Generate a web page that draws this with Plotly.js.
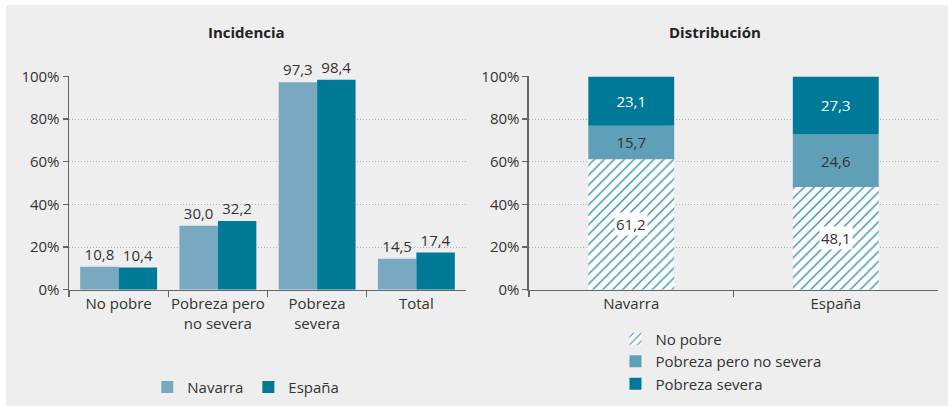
<!DOCTYPE html>
<html><head><meta charset="utf-8">
<script src="https://cdn.plot.ly/plotly-3.0.1.min.js"></script>
<style>
html,body{margin:0;padding:0;background:#fff;width:948px;height:406px;overflow:hidden}
#chart{position:absolute;left:6px;top:5px;width:942px;height:401px}
</style></head>
<body><div id="chart"></div>
<script>
// ---- data ----
const incCategories = ['No pobre', 'Pobreza pero<br>no severa', 'Pobreza<br>severa', 'Total'];
const incNavarra = [10.8, 30.0, 97.3, 14.5];
const incEspana = [10.4, 32.2, 98.4, 17.4];

const distCategories = ['Navarra', 'España'];
const distNoPobre = [61.2, 48.1];
const distPobrezaNoSevera = [15.7, 24.6];
const distPobrezaSevera = [23.1, 27.3];

const yTickVals = [0, 20, 40, 60, 80, 100];
const yTickText = ['0%', '20%', '40%', '60%', '80%', '100%'];

const seriesNames = ['Navarra', 'España'];
const distNames = ['No pobre', 'Pobreza pero no severa', 'Pobreza severa'];
const panelTitles = ['Incidencia', 'Distribución'];

// ---- helpers ----
const FONT = 'Open Sans, sans-serif';
const TXT = '#333333';
const fmt = v => v.toFixed(1).replace('.', ',');

const baseBottom = distNoPobre.map(() => 0);
const baseTop = distNoPobre.map((v, i) => v + distPobrezaNoSevera[i]);

const traces = [
  {
    type: 'bar', name: seriesNames[0], x: incCategories, y: incNavarra,
    text: incNavarra.map(fmt), textposition: 'outside', cliponaxis: false,
    textfont: {size: 15, color: TXT, family: FONT},
    marker: {color: '#79a9c1'}, xaxis: 'x', yaxis: 'y', legend: 'legend',
    hoverinfo: 'none'
  },
  {
    type: 'bar', name: seriesNames[1], x: incCategories, y: incEspana,
    text: incEspana.map(fmt), textposition: 'outside', cliponaxis: false,
    textfont: {size: 15, color: TXT, family: FONT},
    marker: {color: '#007a97'}, xaxis: 'x', yaxis: 'y', legend: 'legend',
    hoverinfo: 'none'
  },
  {
    type: 'bar', name: distNames[0], x: distCategories, y: distNoPobre,
    base: baseBottom, offsetgroup: 'd', width: 0.42, offset: -0.21,
    marker: {color: '#ffffff', pattern: {shape: '/', fgcolor: '#2a8aab', bgcolor: '#ffffff', size: 7, solidity: 0.18}},
    xaxis: 'x2', yaxis: 'y2', legend: 'legend2', hoverinfo: 'none'
  },
  {
    type: 'bar', name: distNames[1], x: distCategories, y: distPobrezaNoSevera,
    base: distNoPobre, offsetgroup: 'd', width: 0.42, offset: -0.21,
    text: distPobrezaNoSevera.map(fmt), textposition: 'inside', insidetextanchor: 'middle',
    textfont: {size: 15, color: TXT, family: FONT}, constraintext: 'none',
    marker: {color: '#5f9fb8'}, xaxis: 'x2', yaxis: 'y2', legend: 'legend2', hoverinfo: 'none'
  },
  {
    type: 'bar', name: distNames[2], x: distCategories, y: distPobrezaSevera,
    base: baseTop, offsetgroup: 'd', width: 0.42, offset: -0.21,
    text: distPobrezaSevera.map(fmt), textposition: 'inside', insidetextanchor: 'middle',
    textfont: {size: 15, color: '#ffffff', family: FONT}, constraintext: 'none',
    marker: {color: '#007898'}, xaxis: 'x2', yaxis: 'y2', legend: 'legend2', hoverinfo: 'none'
  }
];

const annotations = [
  {text: '<b>' + panelTitles[0] + '</b>', xref: 'paper', yref: 'paper', x: 0.2548, y: 0.9327,
   xanchor: 'center', yanchor: 'middle',
   showarrow: false, font: {size: 15, color: '#222', family: FONT}},
  {text: '<b>' + panelTitles[1] + '</b>', xref: 'paper', yref: 'paper', x: 0.7527, y: 0.9327,
   xanchor: 'center', yanchor: 'middle',
   showarrow: false, font: {size: 15, color: '#222', family: FONT}}
].concat(distCategories.map((c, i) => ({
  text: fmt(distNoPobre[i]), x: c, y: distNoPobre[i] / 2, xref: 'x2', yref: 'y2',
  xanchor: 'center', yanchor: 'middle',
  showarrow: false, bgcolor: '#ffffff', borderpad: 1,
  font: {size: 15, color: TXT, family: FONT}
})));

const xAxisCommon = {
  type: 'category', showline: true, linecolor: '#666', linewidth: 1.5,
  ticks: 'outside', tickson: 'boundaries', ticklen: 6, tickcolor: '#666', tickwidth: 1.2,
  tickangle: 0, automargin: false,
  tickfont: {size: 15, color: TXT, family: FONT}, showgrid: false, fixedrange: true
};
const yAxisCommon = {
  range: [0, 100], tickvals: yTickVals, ticktext: yTickText,
  showgrid: true, gridcolor: '#b4b4b4', griddash: '1px,2px', gridwidth: 1,
  showline: true, linecolor: '#666', linewidth: 1.5, zeroline: false,
  ticks: 'outside', ticklen: 5, tickcolor: '#666', tickwidth: 1.2, automargin: false,
  tickfont: {size: 15, color: TXT, family: FONT}, fixedrange: true
};

const layout = {
  width: 942, height: 401,
  margin: {l: 0, r: 0, t: 0, b: 0},
  paper_bgcolor: '#eeeeee', plot_bgcolor: 'rgba(0,0,0,0)',
  font: {family: FONT, color: TXT},
  barmode: 'group', bargap: 0.225, bargroupgap: 0,
  separators: ',.',
  xaxis: Object.assign({}, xAxisCommon, {domain: [0.0669, 0.4883], anchor: 'y'}),
  yaxis: Object.assign({}, yAxisCommon, {domain: [0.29, 0.822], anchor: 'x'}),
  xaxis2: Object.assign({}, xAxisCommon, {domain: [0.5552, 0.9894], anchor: 'y2'}),
  yaxis2: Object.assign({}, yAxisCommon, {domain: [0.29, 0.822], anchor: 'x2'}),
  legend: {orientation: 'h', x: 0.15, y: 0.047, xanchor: 'left', yanchor: 'middle',
           bgcolor: 'rgba(0,0,0,0)', font: {size: 15, color: TXT, family: FONT}, itemwidth: 30},
  legend2: {orientation: 'v', x: 0.647, y: 0.208, xanchor: 'left', yanchor: 'top',
            bgcolor: 'rgba(0,0,0,0)', font: {size: 15, color: TXT, family: FONT}, itemwidth: 30,
            tracegroupgap: 0},
  annotations: annotations,
  showlegend: true
};

Plotly.newPlot('chart', traces, layout, {staticPlot: true, displayModeBar: false});
</script>
</body></html>
